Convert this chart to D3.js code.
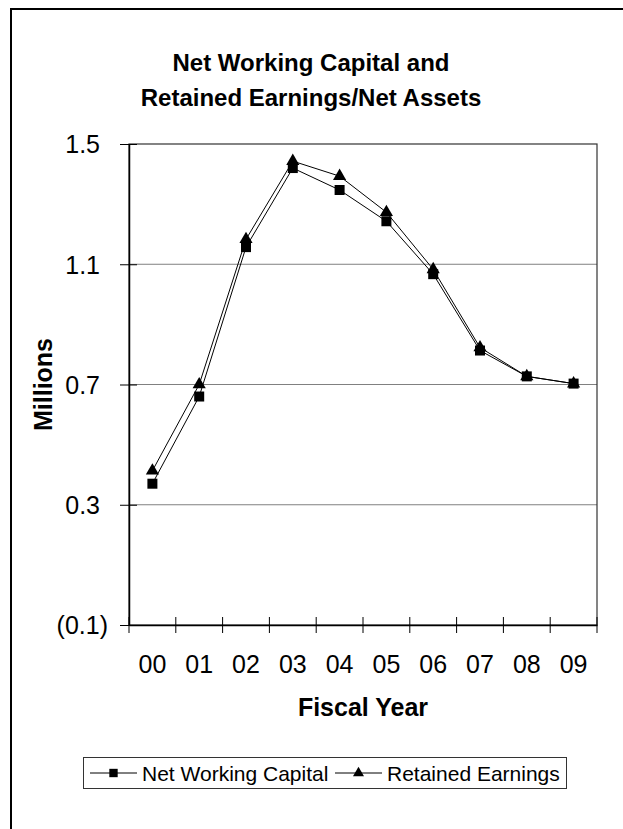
<!DOCTYPE html>
<html><head><meta charset="utf-8">
<script src="https://cdn.jsdelivr.net/npm/d3@7"></script>
<style>body{margin:0;background:#fff}svg{display:block}text{font-family:"Liberation Sans",Arial,sans-serif;fill:#000}</style>
</head><body>
<svg id="c" width="623" height="829"></svg>
<script>
const years = ["00","01","02","03","04","05","06","07","08","09"];
const netWorkingCapital = [0.37,0.66,1.157,1.42,1.347,1.243,1.067,0.813,0.727,0.703];
const retainedEarnings = [0.413,0.70,1.183,1.443,1.393,1.273,1.083,0.823,0.727,0.703];
const yTicks = [-0.1,0.3,0.7,1.1,1.5];
const titleLines = ["Net Working Capital and","Retained Earnings/Net Assets"];

const svg = d3.select("#c");
const m = {l:129, r:597, t:144, b:625};
const x = d3.scaleBand().domain(years).range([m.l,m.r]);
const y = d3.scaleLinear().domain([-0.1,1.5]).range([m.b,m.t]);

// outer frame
svg.append("rect").attr("x",11).attr("y",9).attr("width",700).attr("height",900)
  .attr("fill","none").attr("stroke","#000").attr("stroke-width",2);

// title
svg.append("g").selectAll("text").data(titleLines).join("text")
  .attr("x",311).attr("y",(d,i)=>71+i*35).attr("text-anchor","middle")
  .attr("font-size",24).attr("font-weight","bold").text(d=>d);

// gridlines
svg.append("g").selectAll("line").data(yTicks.filter(v=>v>-0.1&&v<1.5)).join("line")
  .attr("x1",m.l).attr("x2",m.r).attr("y1",d=>y(d)).attr("y2",d=>y(d))
  .attr("stroke","#808080").attr("stroke-width",1);

// plot border
svg.append("rect").attr("x",m.l).attr("y",m.t).attr("width",m.r-m.l).attr("height",m.b-m.t)
  .attr("fill","none").attr("stroke","#333").attr("stroke-width",1.2);

// y axis
const fmt = v => v<0 ? "("+d3.format(".1f")(-v)+")" : d3.format(".1f")(v);
const ya = svg.append("g").attr("transform",`translate(${m.l},0)`)
  .call(d3.axisLeft(y).tickValues(yTicks).tickFormat(fmt).tickSizeInner(8).tickSizeOuter(0).tickPadding(0));
ya.select(".domain").attr("stroke","#000").attr("stroke-width",1.5);
ya.selectAll(".tick line").attr("x2",-9).attr("x1",8).attr("stroke","#000");
ya.selectAll(".tick text").attr("font-size",25).attr("font-family","Liberation Sans, Arial, sans-serif")
  .attr("x",d=>d<0?-21:-29).attr("dy","0.35em");

// x axis
const xa = svg.append("g").attr("transform",`translate(0,${m.b})`)
  .call(d3.axisBottom(x).tickSize(0).tickSizeOuter(0).tickPadding(0));
xa.select(".domain").attr("stroke","#000").attr("stroke-width",1.5);
xa.selectAll(".tick line").remove();
xa.selectAll(".tick text").attr("font-size",25).attr("font-family","Liberation Sans, Arial, sans-serif")
  .attr("y",48).attr("dy",0);
// category boundary ticks
const bounds = years.map(d=>x(d)).concat([m.r]);
svg.append("g").selectAll("line").data(bounds).join("line")
  .attr("x1",d=>d).attr("x2",d=>d).attr("y1",m.b-8).attr("y2",m.b+8).attr("stroke","#000");

// axis titles
svg.append("text").attr("x",(m.l+m.r)/2).attr("y",716).attr("text-anchor","middle")
  .attr("font-size",25).attr("font-weight","bold").text("Fiscal Year");
svg.append("text").attr("transform",`translate(52,${(m.t+m.b)/2}) rotate(-90)`).attr("text-anchor","middle")
  .attr("font-size",25).attr("font-weight","bold").text("Millions");

// lines
const cx = d => x(d)+x.bandwidth()/2;
const line = d3.line().x((d,i)=>cx(years[i])).y(d=>y(d));
const series = [
  {name:"Net Working Capital", values:netWorkingCapital, sym:d3.symbolSquare, size:100},
  {name:"Retained Earnings", values:retainedEarnings, sym:d3.symbolTriangle, size:75}
];
series.forEach(s=>{
  svg.append("path").datum(s.values).attr("d",line).attr("fill","none").attr("stroke","#000").attr("stroke-width",1);
  svg.append("g").selectAll("path").data(s.values).join("path")
    .attr("transform",(d,i)=>`translate(${cx(years[i])},${y(d)})`)
    .attr("d",d3.symbol().type(s.sym).size(s.size)).attr("fill","#000");
});

// legend
const lg = svg.append("g");
lg.append("rect").attr("x",83.5).attr("y",757.5).attr("width",483).attr("height",31)
  .attr("fill","#fff").attr("stroke","#333").attr("stroke-width",1);
const entries = [{s:series[0], x0:90, x1:137, tx:142},{s:series[1], x0:335, x1:382, tx:387}];
entries.forEach(e=>{
  lg.append("line").attr("x1",e.x0).attr("x2",e.x1).attr("y1",773).attr("y2",773).attr("stroke","#000");
  lg.append("path").attr("transform",`translate(${(e.x0+e.x1)/2},773)`)
    .attr("d",d3.symbol().type(e.s.sym).size(e.s.size*0.7)).attr("fill","#000");
  lg.append("text").attr("x",e.tx).attr("y",780.5).attr("font-size",21).text(e.s.name);
});
</script>
</body></html>
